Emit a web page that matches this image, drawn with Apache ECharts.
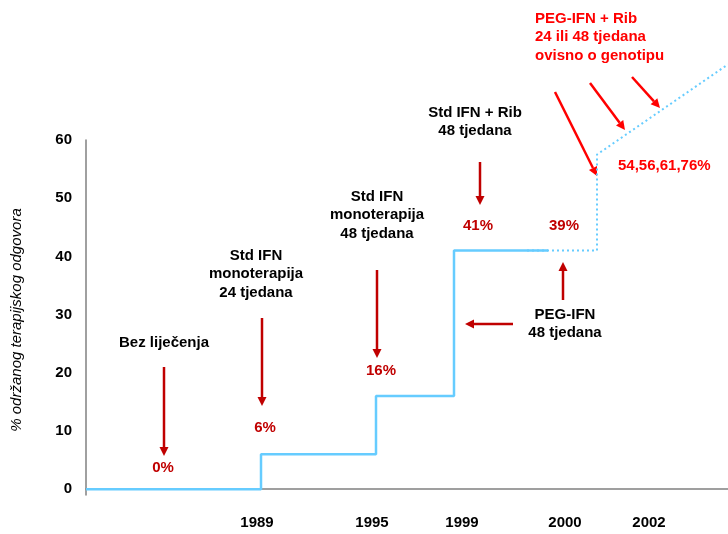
<!DOCTYPE html>
<html>
<head>
<meta charset="utf-8">
<script src="https://cdn.jsdelivr.net/npm/echarts@6/dist/echarts.min.js"></script>
<style>
  * { margin: 0; padding: 0; }
  #main { width: 728px; height: 534px; background: #fff; }
</style>
</head>
<body>
<div id="main"></div>
<script>
// timeline position (abstract units along the x axis) and response rate (%)
var stepPos = [0, 175, 290, 368, 462];
var stepVal = [0, 6, 16, 41, 41];
var dottedPos = [441, 511, 511, 642];
var dottedVal = [41, 41, 57.5, 73];
var yearPos = [171, 286, 376, 479, 563];
var yearLabels = ['1989', '1995', '1999', '2000', '2002'];
var yTicks = [0, 10, 20, 30, 40, 50, 60];

var RED = '#c00000';
var BRIGHT = '#ff0000';
var BLUE = '#66ccff';
var FONT = 'bold 15px "Liberation Sans", Arial, sans-serif';

function zip(a, b) {
    return a.map(function (v, i) { return [v, b[i]]; });
}

function text(t, x, y, color, align) {
    return {
        type: 'text',
        style: {
            text: t, x: x, y: y,
            fill: color || '#000',
            font: FONT,
            align: align || 'center',
            verticalAlign: 'middle',
            lineHeight: 18.5
        }
    };
}

function arrow(x1, y1, x2, y2, color) {
    var dx = x2 - x1, dy = y2 - y1;
    var len = Math.sqrt(dx * dx + dy * dy);
    var ux = dx / len, uy = dy / len;
    var bx = x2 - ux * 9, by = y2 - uy * 9;
    return [
        {
            type: 'line',
            shape: {x1: x1, y1: y1, x2: bx, y2: by},
            style: {stroke: color, lineWidth: 2.5}
        },
        {
            type: 'polygon',
            shape: {points: [[x2, y2], [bx - uy * 4.5, by + ux * 4.5], [bx + uy * 4.5, by - ux * 4.5]]},
            style: {fill: color}
        }
    ];
}

var graphics = [
    {
        type: 'text',
        x: 17, y: 320, rotation: Math.PI / 2,
        style: {
            text: '% održanog terapijskog odgovora',
            x: 0, y: 0, align: 'center', verticalAlign: 'middle',
            font: 'italic 15px "Liberation Sans", Arial, sans-serif',
            fill: '#000'
        }
    },
    text('Bez liječenja', 164, 343),
    text('Std IFN\nmonoterapija\n24 tjedana', 256, 274),
    text('Std IFN\nmonoterapija\n48 tjedana', 377, 215),
    text('Std IFN + Rib\n48 tjedana', 475, 122),
    text('PEG-IFN\n48 tjedana', 565, 324),
    text('PEG-IFN + Rib\n24 ili 48 tjedana\novisno o genotipu', 535, 37, BRIGHT, 'left'),
    text('54,56,61,76%', 618, 166, BRIGHT, 'left'),
    text('0%', 163, 468, RED),
    text('6%', 265, 428, RED),
    text('16%', 381, 371, RED),
    text('41%', 478, 226, RED),
    text('39%', 564, 226, RED)
];

[
    [164, 367, 164, 456, RED],
    [262, 318, 262, 406, RED],
    [377, 270, 377, 358, RED],
    [480, 162, 480, 205, RED],
    [563, 300, 563, 262, RED],
    [513, 324, 465, 324, RED],
    [555, 92, 597, 176, BRIGHT],
    [590, 83, 625, 130, BRIGHT],
    [632, 77, 660, 108, BRIGHT]
].forEach(function (a) {
    graphics = graphics.concat(arrow(a[0], a[1], a[2], a[3], a[4]));
});

var chart = echarts.init(document.getElementById('main'));
chart.setOption({
    animation: false,
    grid: {left: 86, right: 0, top: 140, bottom: 39},
    xAxis: {
        type: 'value',
        min: 0,
        max: 642,
        axisLine: {show: true, lineStyle: {color: '#808080', width: 1.5}},
        axisTick: {show: false},
        splitLine: {show: false},
        axisLabel: {
            customValues: yearPos,
            margin: 20,
            color: '#000',
            fontFamily: '"Liberation Sans", Arial, sans-serif',
            fontWeight: 'bold',
            fontSize: 15,
            formatter: function (v) {
                return yearLabels[yearPos.indexOf(v)];
            }
        }
    },
    yAxis: {
        type: 'value',
        min: -1,
        max: 60,
        axisLine: {show: true, lineStyle: {color: '#808080', width: 1.5}},
        axisTick: {show: false},
        splitLine: {show: false},
        axisLabel: {
            customValues: yTicks,
            margin: 14,
            color: '#000',
            fontFamily: '"Liberation Sans", Arial, sans-serif',
            fontWeight: 'bold',
            fontSize: 15
        }
    },
    series: [
        {
            type: 'line',
            step: 'end',
            data: zip(stepPos, stepVal),
            symbol: 'none',
            lineStyle: {color: BLUE, width: 2.5},
            z: 3
        },
        {
            type: 'line',
            data: zip(dottedPos, dottedVal),
            symbol: 'none',
            clip: false,
            lineStyle: {color: BLUE, width: 2, type: [2, 3]},
            z: 2
        }
    ],
    graphic: graphics
});
</script>
</body>
</html>
